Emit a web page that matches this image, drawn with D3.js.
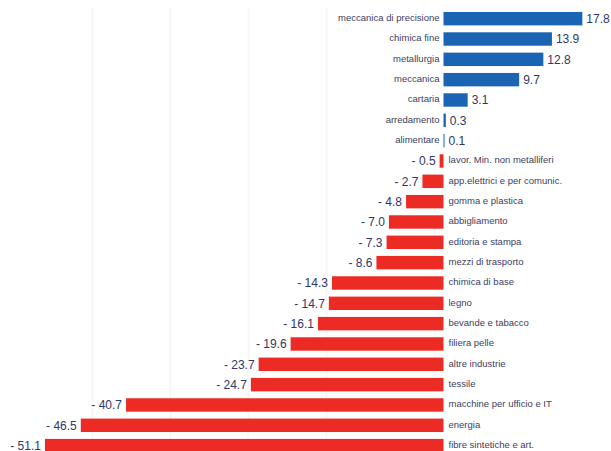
<!DOCTYPE html>
<html><head><meta charset="utf-8">
<script src="https://cdn.jsdelivr.net/npm/d3@7"></script>
<style>body{margin:0;background:#fff;}svg{display:block;}</style>
</head><body>
<script>
const categories = ["meccanica di precisione","chimica fine","metallurgia","meccanica","cartaria","arredamento","alimentare","lavor. Min. non metalliferi","app.elettrici e per comunic.","gomma e plastica","abbigliamento","editoria e stampa","mezzi di trasporto","chimica di base","legno","bevande e tabacco","filiera pelle","altre industrie","tessile","macchine per ufficio e IT","energia","fibre sintetiche e art."];
const values = [17.8,13.9,12.8,9.7,3.1,0.3,0.1,-0.5,-2.7,-4.8,-7.0,-7.3,-8.6,-14.3,-14.7,-16.1,-19.6,-23.7,-24.7,-40.7,-46.5,-51.1];
const gridValues = [-45,-35,-25,-15];

const W = 611, H = 451;
const svg = d3.select("body").append("svg").attr("width", W).attr("height", H);
const x = d3.scaleLinear().domain([-60, 20]).range([-24.5, 599.5]);
const y = d3.scaleBand().domain(categories).range([8.5, 455.8]).paddingInner(0.34).paddingOuter(0.17);

svg.append("g").selectAll("line").data(gridValues).join("line")
  .attr("x1", d => x(d)).attr("x2", d => x(d))
  .attr("y1", 8).attr("y2", H)
  .attr("stroke", "#f7f7f7").attr("stroke-width", 2);

const data = categories.map((c, i) => ({c, v: values[i]}));
const blue = "#1a64b3", red = "#ec2b24";

svg.append("g").selectAll("rect").data(data).join("rect")
  .attr("x", d => x(Math.min(0, d.v)))
  .attr("width", d => Math.max(1, Math.abs(x(d.v) - x(0))))
  .attr("y", d => y(d.c)).attr("height", y.bandwidth())
  .attr("fill", d => d.v >= 0 ? blue : red);

const fmt = v => v >= 0 ? v.toFixed(1) : "- " + Math.abs(v).toFixed(1);

svg.append("g").selectAll("text").data(data).join("text")
  .attr("x", d => d.v >= 0 ? x(0) - 4 : x(0) + 5)
  .attr("y", d => y(d.c) + y.bandwidth() / 2 - 1)
  .attr("dominant-baseline", "central")
  .attr("text-anchor", d => d.v >= 0 ? "end" : "start")
  .attr("font-family", "Liberation Sans, Arial, sans-serif")
  .attr("font-size", 9.5)
  .attr("fill", "#3d4060")
  .text(d => d.c);

svg.append("g").selectAll("text").data(data).join("text")
  .attr("x", d => d.v >= 0 ? Math.max(x(d.v), x(0) + 1) + 4 : x(d.v) - 4)
  .attr("y", d => y(d.c) + y.bandwidth() / 2 + 0.5)
  .attr("dominant-baseline", "central")
  .attr("text-anchor", d => d.v >= 0 ? "start" : "end")
  .attr("font-family", "Liberation Sans, Arial, sans-serif")
  .attr("font-size", 12)
  .attr("fill", "#2e3766")
  .text(d => fmt(d.v));
</script>
</body></html>
